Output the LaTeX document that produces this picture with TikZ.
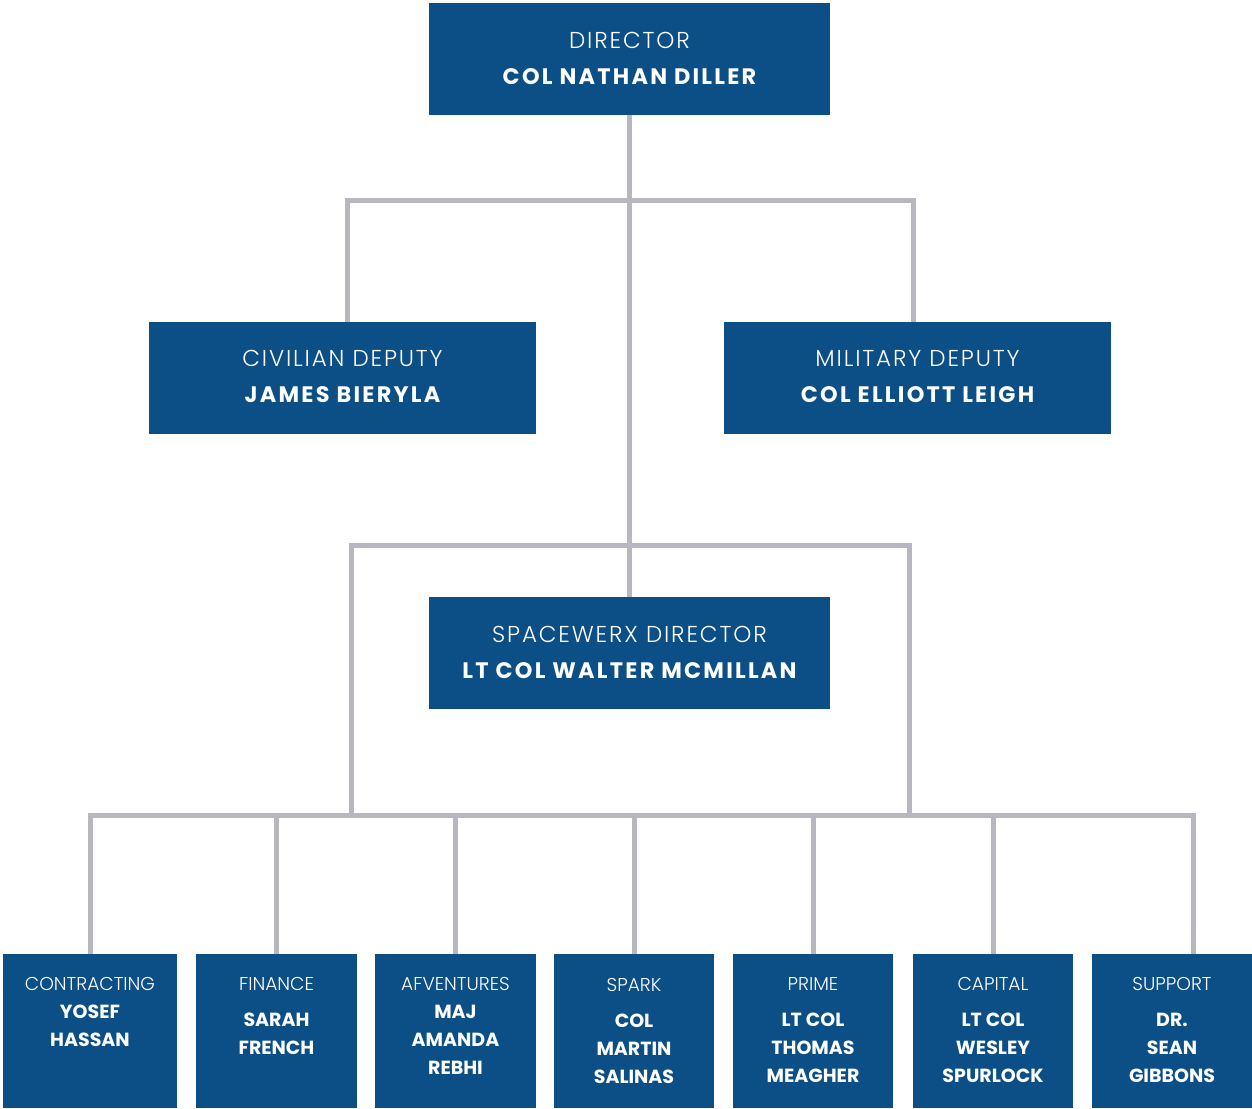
\documentclass[tikz,border=0pt]{standalone}
\usepackage{fontspec}
\setmainfont{Poppins}[UprightFont=* Light, BoldFont=* Bold]
\newfontfamily\rankfont{Poppins}[UprightFont=* Light, LetterSpace=8]
\newfontfamily\personfont{Poppins}[UprightFont=* Bold, LetterSpace=10]
\usepackage{tikz}
\usetikzlibrary{calc}
\usetikzlibrary{positioning}

\definecolor{boxblue}{HTML}{0B4F86}
\definecolor{linegray}{HTML}{B8B7BF}

\begin{document}
\begin{tikzpicture}[x=0.5pt, y=-0.5pt,
    unit/.style={fill=boxblue,rectangle,inner sep=0pt,minimum height=56pt},
    small unit/.style={unit,minimum height=77pt},
    rank/.style={text=white,inner sep=0pt,anchor=base,font=\rankfont\fontsize{11.5}{14}\selectfont},
    person/.style={text=white,inner sep=0pt,anchor=base,font=\personfont\fontsize{11.2}{14}\selectfont},
    small rank/.style={rank,font=\fontsize{9.3}{14}\selectfont},
    small person/.style={text=white,inner sep=0pt,anchor=north,align=center,font=\bfseries\fontsize{9.5}{14}\selectfont},
    link/.style={draw=linegray,line width=2.5pt}]
    \useasboundingbox (0,0) rectangle (1252,1108);

    % boxes
    \node[unit,minimum width=200.5pt](dir) at (629.5,59) {};
    \node[unit,minimum width=193.5pt](civ) at (342.5,378) {};
    \node[unit,minimum width=193.5pt](mil) at (917.5,378) {};
    \node[unit,minimum width=200.5pt](swx) at (629.5,653) {};

    \node[small unit,minimum width=87pt](con) at (90,1031) {};
    \node[small unit,minimum width=80.5pt](fin) at (276.5,1031) {};
    \node[small unit,minimum width=80.5pt](afv) at (455.5,1031) {};
    \node[small unit,minimum width=80pt](spk) at (634,1031) {};
    \node[small unit,minimum width=80pt](prm) at (813,1031) {};
    \node[small unit,minimum width=80pt](cap) at (993,1031) {};
    \node[small unit,minimum width=80pt](sup) at (1172,1031) {};

    % connectors
    \coordinate (top bus) at (630,200);
    \coordinate (mid bus) at (630,545);
    \coordinate (low bus) at (630,815);
    \coordinate (civ in) at (347,322);
    \coordinate (mil in) at (913,322);
    \coordinate (mid left) at (351,545);
    \coordinate (mid right) at (909,545);
    \coordinate (sup in) at (1193,954);

    \draw[link] (dir.south) -- (dir.south |- swx.north);
    \draw[link] (civ in) |- (top bus) -| (mil in);
    \draw[link] (mid left |- low bus) -- (mid left) -- (mid right) -- (mid right |- low bus);
    \draw[link] (con.north) -- (con.north |- low bus) -- (sup in |- low bus) -- (sup in);
    \draw[link] (fin.north) -- (fin.north |- low bus);
    \draw[link] (afv.north) -- (afv.north |- low bus);
    \draw[link] (spk.north) -- (spk.north |- low bus);
    \draw[link] (prm.north) -- (prm.north |- low bus);
    \draw[link] (cap.north) -- (cap.north |- low bus);

    % texts
    \node[rank] (dir rank) at ($(dir.north)+(0,46)$) {DIRECTOR};
    \node[person] (dir name) at ($(dir.north)+(0,81.5)$) {COL NATHAN DILLER};
    \node[rank] (civ rank) at ($(civ.north)+(0,45)$) {CIVILIAN DEPUTY};
    \node[person] (civ name) at ($(civ.north)+(0,80.5)$) {JAMES BIERYLA};
    \node[rank] (mil rank) at ($(mil.north)+(0,45)$) {MILITARY DEPUTY};
    \node[person] (mil name) at ($(mil.north)+(0,80.5)$) {COL ELLIOTT LEIGH};
    \node[rank] (swx rank) at ($(swx.north)+(0,46)$) {SPACEWERX DIRECTOR};
    \node[person] (swx name) at ($(swx.north)+(0,81.5)$) {LT COL WALTER MCMILLAN};

    \node[small rank] (con rank) at ($(con.north)+(0,37)$) {CONTRACTING};
    \node[small person] (con name) at ($(con.north)+(0,51)$) {YOSEF\\HASSAN};
    \node[small rank] (fin rank) at ($(fin.north)+(0,37)$) {FINANCE};
    \node[small person] (fin name) at ($(fin.north)+(0,59)$) {SARAH\\FRENCH};
    \node[small rank] (afv rank) at ($(afv.north)+(0,37)$) {AFVENTURES};
    \node[small person] (afv name) at ($(afv.north)+(0,51)$) {MAJ\\AMANDA\\REBHI};
    \node[small rank] (spk rank) at ($(spk.north)+(0,38)$) {SPARK};
    \node[small person] (spk name) at ($(spk.north)+(0,60)$) {COL\\MARTIN\\SALINAS};
    \node[small rank] (prm rank) at ($(prm.north)+(0,37)$) {PRIME};
    \node[small person] (prm name) at ($(prm.north)+(0,59)$) {LT COL\\THOMAS\\MEAGHER};
    \node[small rank] (cap rank) at ($(cap.north)+(0,37)$) {CAPITAL};
    \node[small person] (cap name) at ($(cap.north)+(0,59)$) {LT COL\\WESLEY\\SPURLOCK};
    \node[small rank] (sup rank) at ($(sup.north)+(0,37)$) {SUPPORT};
    \node[small person] (sup name) at ($(sup.north)+(0,59)$) {DR.\\SEAN\\GIBBONS};
\end{tikzpicture}
\end{document}
